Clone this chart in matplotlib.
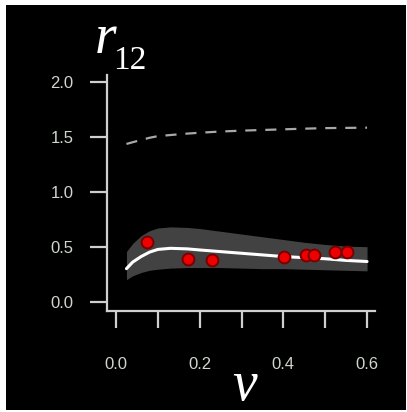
import matplotlib
matplotlib.use("Agg")
import matplotlib.pyplot as plt
from matplotlib.patches import Rectangle

# ---- data ----
nu_grid = [0.025, 0.04, 0.06, 0.08, 0.10, 0.13, 0.17, 0.20, 0.25, 0.30, 0.35, 0.40, 0.45, 0.50, 0.55, 0.60]
r_mean  = [0.30, 0.36, 0.41, 0.45, 0.475, 0.485, 0.48, 0.47, 0.455, 0.44, 0.425, 0.41, 0.40, 0.39, 0.375, 0.365]
r_upper = [0.455, 0.53, 0.60, 0.645, 0.67, 0.68, 0.675, 0.665, 0.64, 0.615, 0.59, 0.565, 0.54, 0.52, 0.505, 0.50]
r_lower = [0.20, 0.235, 0.265, 0.285, 0.295, 0.305, 0.31, 0.31, 0.31, 0.305, 0.30, 0.30, 0.295, 0.29, 0.285, 0.28]
r_dash  = [1.434, 1.45, 1.47, 1.49, 1.505, 1.515, 1.528, 1.536, 1.547, 1.555, 1.561, 1.567, 1.573, 1.578, 1.580, 1.582]

obs_nu = [0.073, 0.173, 0.229, 0.402, 0.455, 0.474, 0.524, 0.552]
obs_r  = [0.542, 0.385, 0.376, 0.406, 0.424, 0.424, 0.455, 0.450]

xticks = [0.0, 0.1, 0.2, 0.3, 0.4, 0.5, 0.6]
xticklabels = ["0.0", "", "0.2", "", "0.4", "", "0.6"]
yticks = [0.0, 0.5, 1.0, 1.5, 2.0]
yticklabels = ["0.0", "0.5", "1.0", "1.5", "2.0"]

W, H = 407, 412
fig = plt.figure(figsize=(W / 100, H / 100), dpi=100, facecolor="white")

# black panel with thin white margin
fig.patches.append(Rectangle((6 / W, 2 / H), (W - 7) / W, (H - 7) / H,
                             transform=fig.transFigure, facecolor="black",
                             edgecolor="none", zorder=-10))

left, right, top, bottom = 107, 375, 75, 311
ax = fig.add_axes([left / W, 1 - bottom / H, (right - left) / W, (bottom - top) / H])
ax.set_facecolor("none")
ax.set_zorder(5)

ax.fill_between(nu_grid, r_lower, r_upper, color="#424242", lw=0, zorder=1)
ax.plot(nu_grid, r_mean, color="white", lw=2.2, zorder=2, solid_capstyle="round")
ax.plot(nu_grid, r_dash, color="#a8a8a8", lw=1.6, dashes=(5, 4), zorder=2)
ax.plot(obs_nu, obs_r, "o", ms=8.5, mfc="#ee0000", mec="#7a0000", mew=1.4, zorder=3)

ax.set_xlim(-0.0215, 0.619)
ax.set_ylim(-0.085, 2.061)

for s in ["top", "right"]:
    ax.spines[s].set_visible(False)
for s in ["left", "bottom"]:
    ax.spines[s].set_color("#cfcfcf")
    ax.spines[s].set_linewidth(1.6)

ax.set_xticks(xticks)
ax.set_xticklabels(xticklabels)
ax.set_yticks(yticks)
ax.set_yticklabels(yticklabels)
tick_color = "#cfd6cc"
ax.tick_params(axis="both", colors="#cfcfcf", width=1.6, length=12,
               labelcolor=tick_color, labelsize=12)
ax.tick_params(axis="y", pad=12)
ax.tick_params(axis="x", pad=21)
for lab in ax.get_xticklabels() + ax.get_yticklabels():
    lab.set_fontfamily("Liberation Sans")

# axis titles
fig.text(95 / W, 1 - 53 / H, "r", family="Liberation Serif", style="italic",
         fontsize=40, color="white", ha="left", va="baseline", zorder=6)
fig.text(113 / W, 1 - 69 / H, "12", family="Liberation Serif",
         fontsize=24, color="white", ha="left", va="baseline", zorder=6)
fig.text(245 / W, 1 - 400 / H, "ν", family="Liberation Serif", style="italic",
         fontsize=40, color="white", ha="center", va="baseline", zorder=6)

fig.savefig("out.png", dpi=100, facecolor="white")
